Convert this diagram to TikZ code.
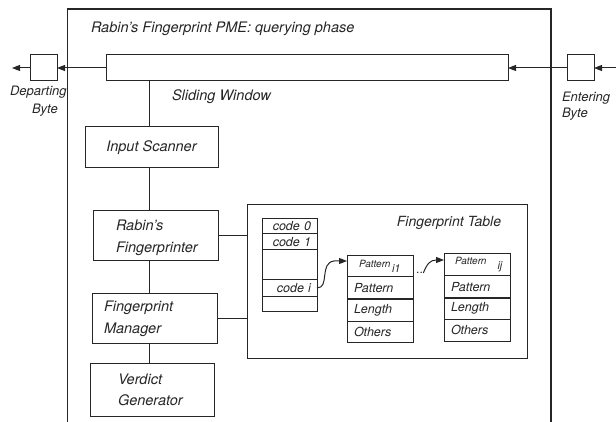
\documentclass[tikz,border=0pt]{standalone}
\usepackage{fontspec}
\setmainfont{TeX Gyre Heros}
\usetikzlibrary{arrows.meta,calc}
\definecolor{ink}{HTML}{262626}
\tikzset{
  line/.style={draw=ink, line width=1pt},
  frame/.style={draw=ink, line width=1.2pt},
  arr/.style={line, -{Triangle[length=8pt,width=6pt]}},
  box/.style={line, rectangle, inner sep=0pt, outer sep=0pt, anchor=north west, text=ink},
  txt/.style={text=ink, inner sep=0pt, outer sep=0pt, align=left},
  big/.style={font=\fontsize{14.5}{21.5}\selectfont\itshape},
  codecell/.style={box, minimum width=55pt, text width=43pt, align=right,
                   font=\fontsize{12.5}{13}\selectfont\itshape},
  patcell/.style={box, minimum width=66pt, inner xsep=7pt, text width=52pt, align=left,
                  font=\fontsize{12.5}{14}\selectfont\itshape},
}
\begin{document}
\begin{tikzpicture}[x=1pt, y=-1pt]
\useasboundingbox (0,0) rectangle (616,422);

% enclosing frame of the querying phase (open at the bottom)
\draw[frame] (67.5,422) -- (67.5,9) -- (551,9) -- (551,422);
\node[txt, big, anchor=west] (title) at (91,29) {Rabin's Fingerprint PME: querying phase};

% sliding window and the bytes entering / leaving it
\node[box, minimum width=402pt, minimum height=26pt] (bar) at (106,55) {};
\node[txt, big, anchor=west] (swlbl) at (172,97) {Sliding Window};
\node[box, minimum width=27pt, minimum height=26pt] (dep) at (30,55) {};
\node[box, minimum width=27pt, minimum height=26pt] (ent) at (567,55) {};
\coordinate (depout) at (12,68);
\coordinate (entin) at (616,68);
\draw[arr] (bar.west) -- (dep.east);
\draw[arr] (dep.west) -- (depout);
\draw[arr] (entin) -- (ent.east);
\draw[arr] (ent.west) -- (bar.east);
\node[txt, font=\fontsize{13}{18}\selectfont\itshape, anchor=north west] (deplbl) at (10,86.5)
  {Departing\\\hspace*{22pt}Byte};
\node[txt, font=\fontsize{13}{16}\selectfont\itshape, anchor=north west] (entlbl) at (562,92.5)
  {Entering\\Byte};

% processing pipeline
\node[box, big, minimum width=133pt, minimum height=41pt] (scan) at (85,127) {Input Scanner};
\node[box, minimum width=125pt, minimum height=50pt] (fpr) at (93,211) {};
\node[txt, big, anchor=west] (fprlbl) at (116,238) {Rabin's\\Fingerprinter};
\node[box, minimum width=125pt, minimum height=50pt] (mgr) at (92,293) {};
\node[txt, big, anchor=west] (mgrlbl) at (104,319) {Fingerprint\\Manager};
\node[box, minimum width=124pt, minimum height=53pt] (ver) at (90,363) {};
\node[txt, big, anchor=west] (verlbl) at (118,390) {Verdict\\Generator};

\coordinate (spine) at (149,0);
\draw[line] (spine |- bar.south) -- (spine |- scan.north);
\draw[line] (spine |- scan.south) -- (spine |- fpr.north);
\draw[line] (spine |- fpr.south) -- (spine |- mgr.north);
\draw[line] (spine |- mgr.south) -- (spine |- ver.north);

% fingerprint table
\node[box, minimum width=280pt, minimum height=153pt] (tbl) at (247,205) {};
\node[txt, font=\fontsize{14}{16}\selectfont\itshape] (tbllbl) at (449,223) {Fingerprint Table};
\draw[line] (fpr.east) -- (fpr.east -| tbl.west);
\draw[line] (mgr.east) -- (mgr.east -| tbl.west);

% code column
\node[codecell, minimum height=15pt] (c0) at (262,219) {code 0};
\node[codecell, minimum height=16pt] (c1) at (262,234) {code 1};
\node[codecell, minimum height=30pt] (c2) at (262,250) {};
\node[codecell, minimum height=16pt] (ci) at (262,280) {code i};
\node[codecell, minimum height=15pt] (c4) at (262,296) {};

% pattern records
\node[patcell, minimum height=21pt] (p11) at (347,256)
  {\hspace*{5pt}{\fontsize{10}{12}\selectfont Pattern}\raisebox{-4.5pt}{\fontsize{11}{12}\selectfont\kern1.5pt i1}};
\node[patcell, minimum height=22pt] (p12) at (347,277) {Pattern};
\node[patcell, minimum height=22pt] (p13) at (347,299) {Length};
\node[patcell, minimum height=21pt] (p14) at (347,321) {Others};
\draw[ink, line width=2pt] (p13.north west) -- (p13.north east);

\node[patcell, minimum height=22pt] (p21) at (444,254)
  {\hspace*{4pt}{\fontsize{10}{12}\selectfont Pattern}\kern11pt\raisebox{-5pt}{\fontsize{11}{12}\selectfont ij}};
\node[patcell, minimum height=22pt] (p22) at (444,276) {Pattern};
\node[patcell, minimum height=21pt] (p23) at (444,298) {Length};
\node[patcell, minimum height=22pt] (p24) at (444,319) {Others};
\draw[ink, line width=2pt] (p23.north west) -- (p23.north east);

% chaining arrows
\draw[arr] (ci.east) .. controls (330,288) and (319,263) .. (334,261)
  -- ($(p11.north west)+(0,5)$);
\node[txt, font=\fontsize{12}{12}\selectfont\itshape] (dots) at (420,273) {..};
\draw[arr] (dots.east) .. controls (427,264) and (430,260) .. ($(p21.north west)+(0,6)$);
\end{tikzpicture}
\end{document}
